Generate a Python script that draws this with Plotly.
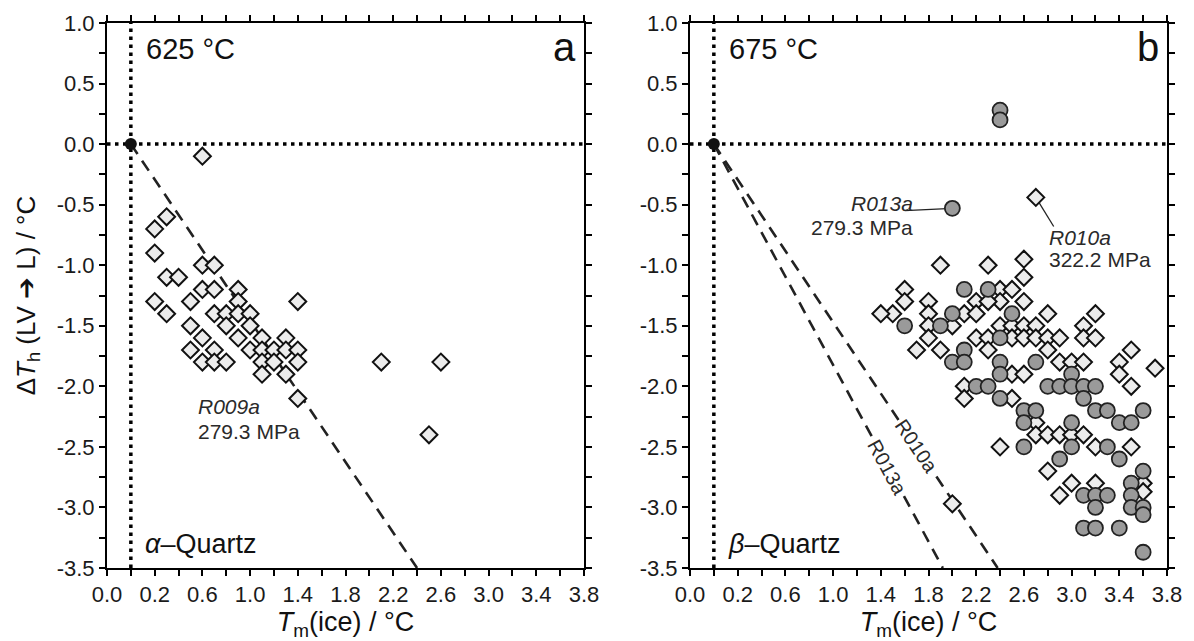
import plotly.graph_objects as go

# ---------------- data ----------------
# Panel a (625 °C, alpha-quartz): open diamonds
a_tm = [0.6, 0.3, 0.2, 0.2, 0.6, 0.7, 0.3, 0.4, 0.6, 0.7, 0.9, 0.2, 0.5, 0.9, 1.4,
        0.3, 0.7, 0.8, 0.9, 1.0, 0.5, 0.8, 1.0, 0.6, 0.9, 1.1, 1.3, 0.5, 0.7, 1.0,
        1.1, 1.2, 1.3, 1.4, 0.6, 0.7, 0.8, 1.1, 1.2, 1.4, 1.1, 1.3, 1.4, 2.1, 2.6, 2.5]
a_dth = [-0.1, -0.6, -0.7, -0.9, -1.0, -1.0, -1.1, -1.1, -1.2, -1.2, -1.2, -1.3, -1.3, -1.3, -1.3,
         -1.4, -1.4, -1.4, -1.4, -1.4, -1.5, -1.5, -1.5, -1.6, -1.6, -1.6, -1.6, -1.7, -1.7, -1.7,
         -1.7, -1.7, -1.7, -1.7, -1.8, -1.8, -1.8, -1.8, -1.8, -1.8, -1.9, -1.9, -2.1, -1.8, -1.8, -2.4]

# Panel b (675 °C, beta-quartz): open diamonds (R010a) and grey circles (R013a)
b_dia_tm = [2.7, 1.9, 2.3, 1.6, 1.6, 1.8, 1.5, 1.4, 1.8, 1.8, 1.8, 2.0, 1.7, 1.9, 2.2, 2.4, 2.5,
            2.4, 2.1, 2.2, 2.3, 2.2, 2.3, 2.4, 2.5, 2.3, 2.1, 2.5, 2.5, 2.6, 2.6, 2.6, 2.8,
            3.2, 3.1, 2.6, 2.7, 2.6, 2.7, 2.8, 2.9, 3.1, 3.2, 2.8, 2.9, 3.0, 3.1, 3.5, 3.4,
            3.4, 3.7, 3.5, 2.6, 2.5, 2.7, 2.7, 2.8, 2.9, 3.0, 3.1, 2.4, 3.2, 3.5, 2.8, 3.0,
            2.9, 3.2, 3.6, 3.6, 2.0, 2.1]
b_dia_dth = [-0.44, -1.0, -1.0, -1.2, -1.3, -1.3, -1.4, -1.4, -1.4, -1.5, -1.6, -1.5, -1.7, -1.7,
             -1.3, -1.2, -1.2, -1.3, -1.4, -1.4, -1.3, -1.6, -1.6, -1.5, -1.5, -1.7, -2.0,
             -1.6, -1.9, -0.95, -1.1, -1.3, -1.4, -1.4, -1.5, -1.5, -1.5, -1.6, -1.6, -1.6,
             -1.6, -1.6, -1.6, -1.7, -1.8, -1.8, -1.8, -1.7, -1.8, -1.9, -1.85, -2.0, -1.9,
             -2.1, -2.3, -2.4, -2.4, -2.4, -2.4, -2.4, -2.5, -2.5, -2.5, -2.7, -2.8, -2.9,
             -2.8, -2.8, -2.87, -2.97, -2.1]
b_cir_tm = [2.4, 2.4, 2.0, 1.6, 1.9, 2.0, 2.1, 2.3, 2.5, 2.4, 2.1, 2.0, 2.1, 2.4, 2.4, 2.2,
            2.3, 2.7, 3.0, 2.8, 2.9, 3.0, 3.1, 3.2, 3.1, 2.4, 2.6, 2.7, 2.6, 3.0, 3.2, 3.3,
            3.4, 3.5, 3.6, 2.6, 3.0, 3.3, 2.9, 3.4, 3.6, 3.5, 3.1, 3.2, 3.3, 3.2, 3.5, 3.5,
            3.6, 3.6, 3.1, 3.2, 3.4, 3.6]
b_cir_dth = [0.28, 0.2, -0.53, -1.5, -1.5, -1.4, -1.2, -1.2, -1.4, -1.6, -1.7, -1.8, -1.8,
             -1.8, -1.9, -2.0, -2.0, -1.8, -1.9, -2.0, -2.0, -2.0, -2.0, -2.0, -2.1, -2.1,
             -2.2, -2.2, -2.3, -2.3, -2.2, -2.2, -2.3, -2.3, -2.2, -2.5, -2.5, -2.5, -2.6,
             -2.6, -2.7, -2.8, -2.9, -2.9, -2.9, -3.0, -2.9, -3.0, -3.0, -3.06, -3.17,
             -3.17, -3.17, -3.37]

# Isochores: Tm(ice) where each line reaches the lower axis limit
iso_a_names = ["R009a"]
iso_a_tm_end = [2.40]
iso_b_names = ["R010a", "R013a"]
iso_b_tm_end = [2.38, 1.92]

# axis settings
X_RANGE = [-0.2, 3.8]
Y_RANGE = [-3.5, 1.0]
x_tickvals = [-0.2, 0.2, 0.6, 1.0, 1.4, 1.8, 2.2, 2.6, 3.0, 3.4, 3.8]
x_ticktext = ["0.0", "0.2", "0.6", "1.0", "1.4", "1.8", "2.2", "2.6", "3.0", "3.4", "3.8"]
x_minor = [0.0, 0.4, 0.8, 1.2, 1.6, 2.0, 2.4, 2.8, 3.2, 3.6]
y_tickvals = [-3.5, -3.0, -2.5, -2.0, -1.5, -1.0, -0.5, 0.0, 0.5, 1.0]
y_ticktext = ["-3.5", "-3.0", "-2.5", "-2.0", "-1.5", "-1.0", "-0.5", "0.0", "0.5", "1.0"]
y_minor = [-3.25, -2.75, -2.25, -1.75, -1.25, -0.75, -0.25, 0.25, 0.75]

X_TITLE = "<i>T</i><sub>m</sub>(ice) / °C"
Y_TITLE = "Δ<i>T</i><sub>h</sub> (LV ➔ L) / °C"

ORIGIN = (0.0, 0.0)

FONT = "Liberation Sans, Arial, sans-serif"
fig = go.Figure()


def add_refs(xa, ya):
    fig.add_trace(go.Scatter(x=X_RANGE, y=[ORIGIN[1]] * 2, mode="lines", xaxis=xa, yaxis=ya,
                             line=dict(color="black", width=3.5, dash="3.5px,4.5px"),
                             showlegend=False, hoverinfo="skip"))
    fig.add_trace(go.Scatter(x=[ORIGIN[0]] * 2, y=Y_RANGE, mode="lines", xaxis=xa, yaxis=ya,
                             line=dict(color="black", width=3.5, dash="3.5px,4.5px"),
                             showlegend=False, hoverinfo="skip"))


def add_iso(xa, ya, ends):
    for xe in ends:
        fig.add_trace(go.Scatter(x=[ORIGIN[0], xe], y=[ORIGIN[1], Y_RANGE[0]], mode="lines",
                                 xaxis=xa, yaxis=ya,
                                 line=dict(color="#222", width=2.6, dash="12px,8px"),
                                 showlegend=False, hoverinfo="skip"))


def add_origin(xa, ya):
    fig.add_trace(go.Scatter(x=[ORIGIN[0]], y=[ORIGIN[1]], mode="markers", xaxis=xa, yaxis=ya,
                             marker=dict(color="#111", size=12), showlegend=False,
                             hoverinfo="skip", cliponaxis=False))


def add_leader(xa, ya, px, py, dx, dy):
    fig.add_trace(go.Scatter(x=[px, px + dx], y=[py, py + dy], mode="lines", xaxis=xa,
                             yaxis=ya, line=dict(color="#222", width=1.3),
                             showlegend=False, hoverinfo="skip"))


DIA = dict(symbol="diamond", size=13, color="#ececec", line=dict(color="#111", width=2))
CIR = dict(symbol="circle", size=15, color="#9a9a9a", line=dict(color="#222", width=1.8))

# panel a
add_refs("x", "y")
add_iso("x", "y", iso_a_tm_end)
fig.add_trace(go.Scatter(x=a_tm, y=a_dth, mode="markers", marker=DIA, xaxis="x", yaxis="y",
                         showlegend=False))
add_origin("x", "y")

# panel b
add_refs("x2", "y2")
add_iso("x2", "y2", iso_b_tm_end)
add_leader("x2", "y2", b_cir_tm[2], b_cir_dth[2], -0.40, -0.02)
add_leader("x2", "y2", b_dia_tm[0], b_dia_dth[0], 0.15, -0.24)
fig.add_trace(go.Scatter(x=b_dia_tm, y=b_dia_dth, mode="markers", marker=DIA, xaxis="x2",
                         yaxis="y2", showlegend=False))
fig.add_trace(go.Scatter(x=b_cir_tm, y=b_cir_dth, mode="markers", marker=CIR, xaxis="x2",
                         yaxis="y2", showlegend=False))
add_origin("x2", "y2")

axis_common = dict(showline=True, linecolor="black", linewidth=2, mirror="ticks",
                   ticks="outside", ticklen=6, tickwidth=1.5, tickcolor="black",
                   showgrid=False, zeroline=False, automargin=False,
                   tickfont=dict(family=FONT, size=22, color="#1a1a1a"))
minor_x = dict(tickvals=x_minor, ticks="outside", ticklen=6, tickwidth=1.5,
               tickcolor="black", showgrid=False)
minor_y = dict(tickvals=y_minor, ticks="outside", ticklen=6, tickwidth=1.5,
               tickcolor="black", showgrid=False)
xtitle = dict(text=X_TITLE, font=dict(family=FONT, size=27, color="#111"), standoff=9)
fig.update_layout(
    width=1194, height=641,
    margin=dict(l=107, r=27, t=23, b=73),
    paper_bgcolor="white", plot_bgcolor="white",
    xaxis=dict(domain=[0, 0.45], range=X_RANGE, tickvals=x_tickvals, ticktext=x_ticktext,
               anchor="y", minor=minor_x, title=xtitle, **axis_common),
    yaxis=dict(domain=[0, 1], range=Y_RANGE, tickvals=y_tickvals, ticktext=y_ticktext,
               anchor="x", minor=minor_y,
               title=dict(text=Y_TITLE, font=dict(family=FONT, size=26, color="#111"),
                          standoff=14), **axis_common),
    xaxis2=dict(domain=[0.55, 1], range=X_RANGE, tickvals=x_tickvals, ticktext=x_ticktext,
                anchor="y2", minor=minor_x, title=xtitle, **axis_common),
    yaxis2=dict(domain=[0, 1], range=Y_RANGE, tickvals=y_tickvals, ticktext=y_ticktext,
                anchor="x2", minor=minor_y, **axis_common),
)

ann = []
TXT = "#2a2a2a"
for xr, yr, temp, letter, greek in [("x", "y", "625 °C", "a", "α"),
                                    ("x2", "y2", "675 °C", "b", "β")]:
    ann.append(dict(xref=xr, yref=yr, x=0.108, y=0.784, xanchor="left", yanchor="middle",
                    text=temp, showarrow=False, font=dict(family=FONT, size=29, color="#111")))
    ann.append(dict(xref=xr, yref=yr, x=3.752, y=0.80, xanchor="right", yanchor="middle",
                    text=letter, showarrow=False, font=dict(family=FONT, size=40, color="#111")))
    ann.append(dict(xref=xr, yref=yr, x=0.10, y=-3.30, xanchor="left", yanchor="middle",
                    text="<i>" + greek + "</i>–Quartz",
                    showarrow=False, font=dict(family=FONT, size=27, color="#111")))

# sample labels
ann += [
    dict(xref="x", yref="y", x=0.55, y=-2.17, xanchor="left", yanchor="middle",
         text="<i>R009a</i>", showarrow=False, font=dict(family=FONT, size=21, color=TXT)),
    dict(xref="x", yref="y", x=0.55, y=-2.37, xanchor="left", yanchor="middle",
         text="279.3 MPa", showarrow=False, font=dict(family=FONT, size=21, color=TXT)),
    dict(xref="x2", yref="y2", x=1.69, y=-0.49, xanchor="right", yanchor="middle",
         text="<i>R013a</i>", showarrow=False, font=dict(family=FONT, size=21, color=TXT)),
    dict(xref="x2", yref="y2", x=1.69, y=-0.69, xanchor="right", yanchor="middle",
         text="279.3 MPa", showarrow=False, font=dict(family=FONT, size=21, color=TXT)),
    dict(xref="x2", yref="y2", x=2.79, y=-0.77, xanchor="left", yanchor="middle",
         text="<i>R010a</i>", showarrow=False, font=dict(family=FONT, size=21, color=TXT)),
    dict(xref="x2", yref="y2", x=2.79, y=-0.95, xanchor="left", yanchor="middle",
         text="322.2 MPa", showarrow=False, font=dict(family=FONT, size=21, color=TXT)),
]
# isochore labels along dashed lines
ann += [
    dict(xref="x2", yref="y2", x=1.70, y=-2.49, text=iso_b_names[0], textangle=56,
         showarrow=False, bgcolor="white", font=dict(family=FONT, size=20, color=TXT)),
    dict(xref="x2", yref="y2", x=1.45, y=-2.67, text=iso_b_names[1], textangle=61.5,
         showarrow=False, bgcolor="white", font=dict(family=FONT, size=20, color=TXT)),
]
fig.update_layout(annotations=ann)
fig.write_html("out.html")
